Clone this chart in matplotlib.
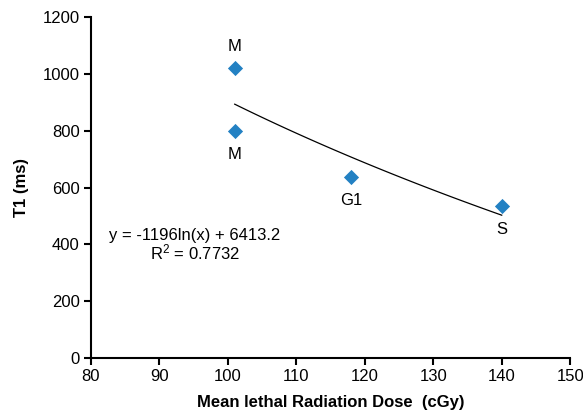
import numpy as np
import matplotlib
matplotlib.use("Agg")
import matplotlib.pyplot as plt

plt.rcParams['font.family'] = ['Liberation Sans', 'DejaVu Sans']

dose = [101, 101, 118, 140]
t1 = [1020, 800, 638, 535]
labels = ['M', 'M', 'G1', 'S']
label_offsets = [(0, 16), (0, -17), (0, -17), (0, -17)]
coef_a = -1196
coef_b = 6413.2
r2 = 0.7732

fig = plt.figure(figsize=(5.83, 4.16), dpi=100)
ax = fig.add_axes([0.156, 0.139, 0.822, 0.820])

xs = np.linspace(min(dose), max(dose), 100)
ax.plot(xs, coef_a * np.log(xs) + coef_b, color='black', lw=0.9, zorder=2)
ax.scatter(dose, t1, marker='D', s=60, color='#2381c3', zorder=3, linewidths=0)

for x, y, lab, off in zip(dose, t1, labels, label_offsets):
    ax.annotate(lab, (x, y), xytext=off, textcoords='offset points',
                ha='center', va='center', fontsize=12)

ax.text(95.2, 398, f'y = {coef_a}ln(x) + {coef_b}\n$\\mathregular{{R^2}}$ = {r2}',
        ha='center', va='center', fontsize=12, linespacing=1.0)

ax.set_xlim(80, 150)
ax.set_ylim(0, 1200)
ax.set_xticks(range(80, 151, 10))
ax.set_yticks(range(0, 1201, 200))
for s in ['top', 'right']:
    ax.spines[s].set_visible(False)
for s in ['left', 'bottom']:
    ax.spines[s].set_linewidth(1.5)
ax.tick_params(direction='out', length=5, width=1.5, labelsize=12, pad=3)
ax.set_xlabel('Mean lethal Radiation Dose  (cGy)', fontsize=12, fontweight='bold', labelpad=8)
ax.set_ylabel('T1 (ms)', fontsize=12, fontweight='bold', labelpad=10)

fig.savefig('out.png', dpi=100)
